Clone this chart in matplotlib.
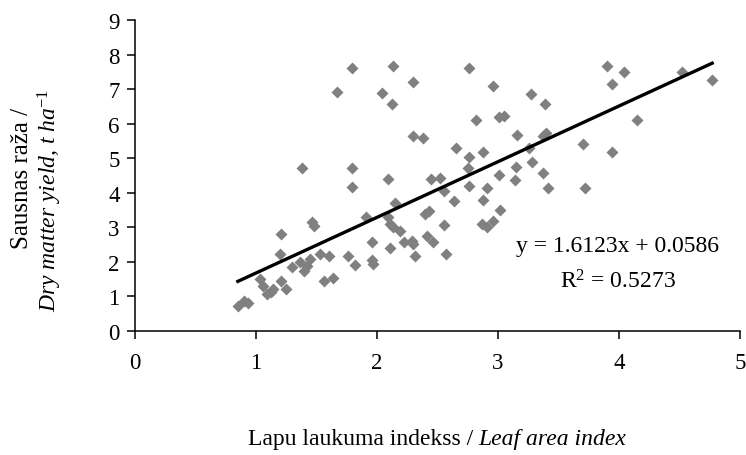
import matplotlib.pyplot as plt
import numpy as np

plt.rcParams['font.family'] = 'Liberation Serif'
plt.rcParams['mathtext.fontset'] = 'custom'
plt.rcParams['mathtext.rm'] = 'Liberation Serif'
plt.rcParams['mathtext.it'] = 'Liberation Serif:italic'
plt.rcParams['mathtext.default'] = 'it'

# leaf area index vs dry matter yield
lai = [0.85, 0.90, 0.93, 1.03, 1.06, 1.09, 1.12, 1.14, 1.21, 1.25,
       1.20, 1.21, 1.30, 1.36, 1.40, 1.45, 1.42, 1.53, 1.60, 1.56,
       1.64, 1.46, 1.48, 1.38, 1.67, 1.79, 1.79, 1.79, 1.76, 1.82,
       1.91, 1.96, 1.96, 1.97, 2.04, 2.12, 2.13, 2.09, 2.15, 2.09,
       2.11, 2.13, 2.19, 2.22, 2.29, 2.30, 2.11, 2.31, 2.30, 2.30,
       2.38, 2.40, 2.43, 2.41, 2.46, 2.45, 2.52, 2.55, 2.55, 2.57,
       2.64, 2.65, 2.76, 2.76, 2.75, 2.76, 2.82, 2.88, 2.88, 2.91,
       2.87, 2.91, 2.96, 3.02, 2.96, 3.01, 3.05, 3.01, 3.14, 3.15,
       3.16, 3.26, 3.28, 3.27, 3.39, 3.37, 3.40, 3.37, 3.41, 3.70,
       3.72, 3.94, 3.90, 4.04, 3.94, 4.15, 4.52, 4.77]
yield_dm = [0.72, 0.86, 0.80, 1.49, 1.30, 1.06, 1.12, 1.20, 1.44, 1.20,
            2.22, 2.80, 1.85, 1.98, 1.72, 2.08, 1.88, 2.22, 2.17, 1.44,
            1.52, 3.14, 3.04, 4.70, 6.90, 7.60, 4.70, 4.17, 2.17, 1.91,
            3.28, 2.56, 2.04, 1.93, 6.88, 6.57, 7.68, 4.40, 3.69, 3.28,
            3.09, 2.99, 2.89, 2.56, 2.60, 2.51, 2.41, 2.17, 7.21, 5.65,
            5.57, 3.38, 3.48, 2.75, 2.58, 4.38, 4.42, 4.05, 3.05, 2.22,
            3.77, 5.30, 7.60, 5.02, 4.70, 4.20, 6.11, 5.17, 3.80, 4.12,
            3.09, 2.99, 3.18, 3.50, 7.09, 6.18, 6.23, 4.50, 4.36, 4.75,
            5.66, 5.28, 4.88, 6.86, 6.57, 5.65, 5.72, 4.56, 4.12, 5.42,
            4.12, 5.17, 7.67, 7.50, 7.14, 6.11, 7.50, 7.26]

slope, intercept, r2 = 1.6123, 0.0586, 0.5273

fig = plt.figure(figsize=(7.46, 4.56), dpi=100)
ax = fig.add_axes([135/746, 1 - 331.7/456, 605/746, 310.7/456])

ax.plot(lai, yield_dm, ls='none', marker='D', ms=6, mfc='#808080', mec='none')
xl = np.array([min(lai), max(lai)])
ax.plot(xl, slope*xl + intercept, c='k', lw=2.4)

ax.set_xlim(0, 5)
ax.set_ylim(0, 9)
ax.set_xticks(range(6))
ax.set_yticks(range(10))
for s in ['top', 'right']:
    ax.spines[s].set_visible(False)
for s in ['left', 'bottom']:
    ax.spines[s].set_linewidth(1.1)
ax.tick_params(direction='out', length=6, width=1.1, labelsize=16.5)
ax.tick_params(axis='x', pad=9)
ax.tick_params(axis='y', pad=5)

fig.text(618/746, 1 - 247/456, 'y = 1.6123x + 0.0586', ha='center', va='center', fontsize=17)
fig.text(618/746, 1 - 282/456, r'R$^{\rm 2}$ = 0.5273', ha='center', va='center', fontsize=17)

# x label: roman part + italic part, centred together
r = fig.canvas.get_renderer()
t1 = fig.text(0, 1 - 440/456, 'Lapu laukuma indekss / ', ha='left', va='center', fontsize=17)
t2 = fig.text(0, 1 - 440/456, 'Leaf area index', ha='left', va='center', fontsize=17,
              style='italic')
w1 = t1.get_window_extent(r).width
w2 = t2.get_window_extent(r).width
x0 = 437 - (w1 + w2) / 2
t1.set_x(x0 / 746)
t2.set_x((x0 + w1) / 746)

fig.text(22/746, 1 - 178/456, 'Sausnas raža /', rotation=90,
         ha='center', va='center', fontsize=18)
fig.text(50/746, 1 - 200/456, 'Dry matter yield, t ha$^{-1}$', rotation=90,
         ha='center', va='center', fontsize=17, style='italic')

fig.savefig('out.png', dpi=100)
